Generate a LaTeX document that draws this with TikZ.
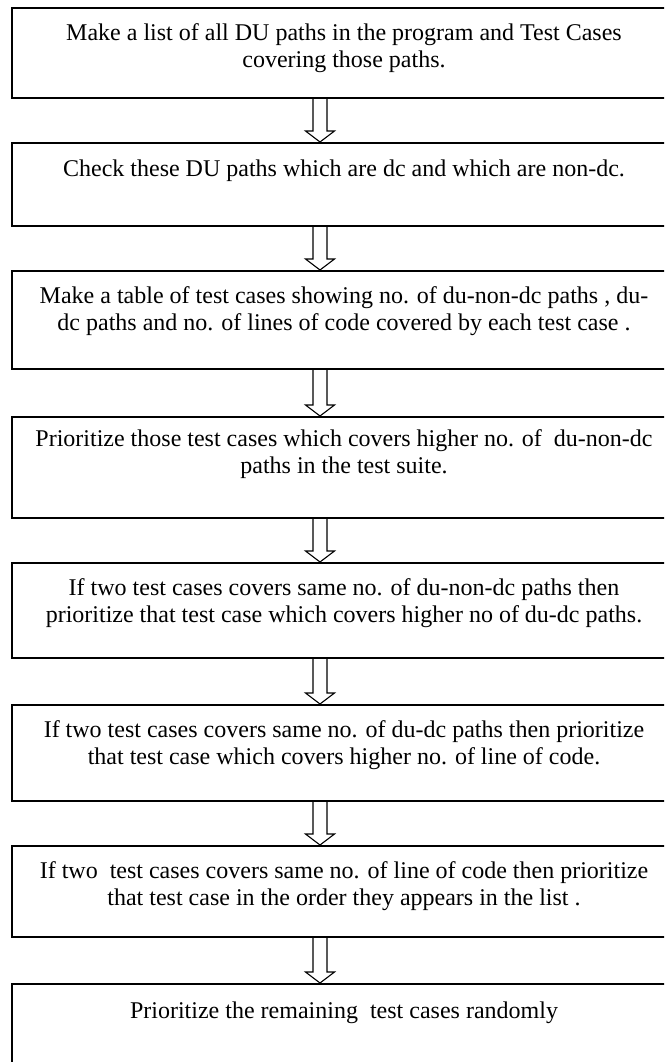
\documentclass[tikz,border=0pt]{standalone}
\usepackage{fontspec}
\setmainfont{Liberation Serif}
\usetikzlibrary{calc}

\newdimen\px \px=0.55pt
\tikzset{
  stepbox/.style={draw, line width=0.9pt, minimum width=664\px, anchor=north, inner sep=0pt},
  boxtext/.style={anchor=north, align=center, inner sep=0pt, font=\fontsize{13.2}{15}\selectfont},
  arrowline/.style={line width=0.6pt, line join=miter},
}
% hollow block arrow from the bottom of one box to the top of the next
\newcommand{\hollowarrow}[2]{%
  \draw[arrowline] ($(#1 -| ax)+(-7,0)$) -- ($(#2 -| ax)+(-7,-11)$) -- ($(#2 -| ax)+(-14.5,-11)$)
    -- (#2 -| ax) -- ($(#2 -| ax)+(14.5,-11)$) -- ($(#2 -| ax)+(7,-11)$) -- ($(#1 -| ax)+(7,0)$);}

\begin{document}
\begin{tikzpicture}[x=0.55pt,y=-0.55pt]
	\useasboundingbox (0,0) rectangle (664,1062);
	\clip (0,0) rectangle (664,1062);
	\coordinate (ax) at (320,0);
	% boxes
	\node[stepbox, minimum height=90\px] (b1) at (344,7) {};
	\node[stepbox, minimum height=83\px] (b2) at (344,142) {};
	\node[stepbox, minimum height=98\px] (b3) at (344,270) {};
	\node[stepbox, minimum height=101\px] (b4) at (344,416) {};
	\node[stepbox, minimum height=95\px] (b5) at (344,562) {};
	\node[stepbox, minimum height=96\px] (b6) at (344,704) {};
	\node[stepbox, minimum height=91\px] (b7) at (344,845) {};
	\node[stepbox, minimum height=110\px] (b8) at (344,983) {};
	% texts
	\node[boxtext] (t1) at ($(b1.north)+(0,16)$) {Make a list of all DU paths in the program and Test Cases\\covering those paths.};
	\node[boxtext] (t2) at ($(b2.north)+(0,17)$) {Check these DU paths which are dc and which are non-dc.};
	\node[boxtext] (t3) at ($(b3.north)+(0,16)$) {Make a table of test cases showing no. of du-non-dc paths , du-\\dc paths and no. of lines of code covered by each test case .};
	\node[boxtext] (t4) at ($(b4.north)+(0,13)$) {Prioritize those test cases which covers higher no. of~ du-non-dc\\paths in the test suite.};
	\node[boxtext] (t5) at ($(b5.north)+(0,16)$) {If two test cases covers same no. of du-non-dc paths then\\prioritize that test case which covers higher no of du-dc paths.};
	\node[boxtext] (t6) at ($(b6.north)+(0,16)$) {If two test cases covers same no. of du-dc paths then prioritize\\that test case which covers higher no. of line of code.};
	\node[boxtext] (t7) at ($(b7.north)+(0,16)$) {If two~ test cases covers same no. of line of code then prioritize\\that test case in the order they appears in the list .};
	\node[boxtext] (t8) at ($(b8.north)+(0,18)$) {Prioritize the remaining~ test cases randomly};
	% arrows
	\hollowarrow{b1.south}{b2.north}
	\hollowarrow{b2.south}{b3.north}
	\hollowarrow{b3.south}{b4.north}
	\hollowarrow{b4.south}{b5.north}
	\hollowarrow{b5.south}{b6.north}
	\hollowarrow{b6.south}{b7.north}
	\hollowarrow{b7.south}{b8.north}
\end{tikzpicture}
\end{document}
